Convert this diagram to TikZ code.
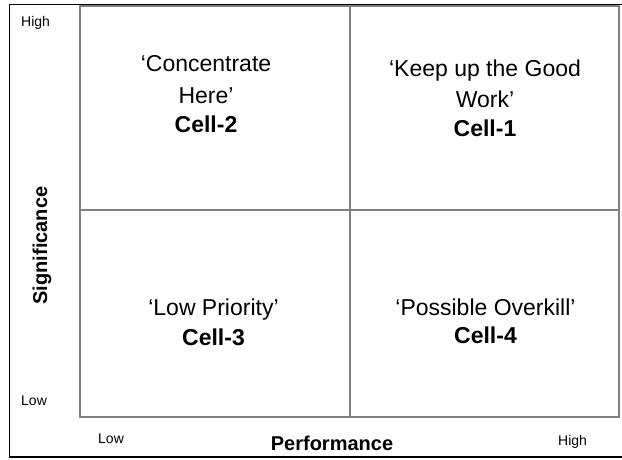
\documentclass[tikz,border=0pt]{standalone}
\usepackage{fontspec}
\setmainfont{Liberation Sans}
\definecolor{gridgray}{RGB}{128,128,128}
\begin{document}
\begin{tikzpicture}[x=1pt,y=-1pt,
  gridline/.style={draw=gridgray,line width=1.8pt},
  frame/.style={draw=black,line width=1.3pt},
  celltext/.style={anchor=base,inner sep=0pt,font=\fontsize{23}{27}\selectfont},
  cellname/.style={anchor=base,inner sep=0pt,font=\fontsize{23}{27}\selectfont\bfseries},
  axislabel/.style={anchor=base west,inner sep=0pt,font=\fontsize{14}{16}\selectfont},
  axistitle/.style={anchor=base,inner sep=0pt,font=\fontsize{20}{23}\selectfont\bfseries}]
\useasboundingbox (0,0) rectangle (622,460);
\fill[white] (0,0) rectangle (622,460);
% outer frame
\draw[frame] (9.5,4.5) rectangle (624,457);
% grid
\coordinate (tl) at (80,6);
\coordinate (br) at (619,417);
\draw[gridline] (tl) rectangle (br);
\draw[gridline] (350,6) -- (350,417);
\draw[gridline] (80,210) -- (619,210);
% cell 2
\node[celltext] (c2a) at (206,72) {‘Concentrate};
\node[celltext] (c2b) at (206,103) {Here’};
\node[cellname] (c2c) at (206,132) {Cell-2};
% cell 1
\node[celltext] (c1a) at (485,77) {‘Keep up the Good};
\node[celltext] (c1b) at (485,107) {Work’};
\node[cellname] (c1c) at (485,137) {Cell-1};
% cell 3
\node[celltext] (c3a) at (213.5,315) {‘Low Priority’};
\node[cellname] (c3b) at (213.5,345) {Cell-3};
% cell 4
\node[celltext] (c4a) at (485.5,315) {‘Possible Overkill’};
\node[cellname] (c4b) at (485.5,343) {Cell-4};
% axis labels
\node[axislabel] (yhigh) at (21,27) {High};
\node[axislabel] (ylow) at (21,405.5) {Low};
\node[axislabel] (xlow) at (98,443) {Low};
\node[axislabel] (xhigh) at (558,445) {High};
\node[axistitle] (xtitle) at (332,450) {Performance};
\node[axistitle,rotate=90] (ytitle) at (47,245.5) {Significance};
\end{tikzpicture}
\end{document}
